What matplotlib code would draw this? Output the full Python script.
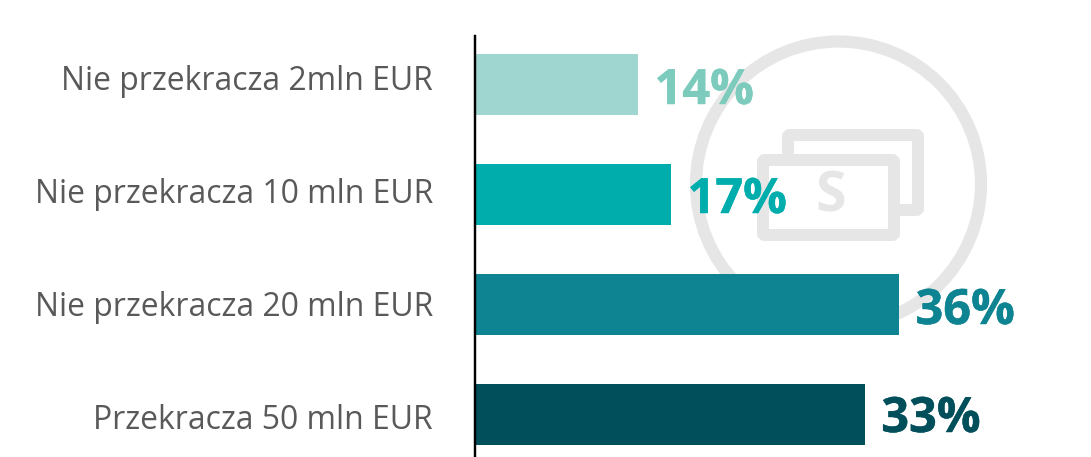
#!/usr/bin/env python3

import matplotlib
matplotlib.use("Agg")
import matplotlib.pyplot as plt
import matplotlib.patheffects as pe
from matplotlib.patches import Circle, FancyBboxPatch
from matplotlib.transforms import ScaledTranslation

W, H = 1091, 457

categories = ["Nie przekracza 2mln EUR", "Nie przekracza 10 mln EUR",
              "Nie przekracza 20 mln EUR", "Przekracza 50 mln EUR"]
values = [13.87, 16.67, 36, 33.1]  # bar lengths as drawn, slightly off the printed labels
value_labels = ["14%", "17%", "36%", "33%"]
colors = ["#a0d6d0", "#00adad", "#0e8391", "#014f5a"]
label_colors = ["#7ccbbd", "#00adad", "#0e8391", "#014f5a"]

plt.rcParams['font.family'] = ['Open Sans', 'DejaVu Sans']

fig = plt.figure(figsize=(W / 100, H / 100), dpi=100)

# background watermark, in pixel coordinates
bg = fig.add_axes([0, 0, 1, 1], zorder=0)
bg.set_xlim(0, W)
bg.set_ylim(H, 0)
bg.axis("off")
GREY = "#e6e6e6"
bg.add_patch(Circle((838.5, 184), 142.5, fill=False, ec=GREY, lw=8.8))
bg.add_patch(FancyBboxPatch((788, 135), 130, 75, boxstyle="round,pad=0,rounding_size=2",
                            fill=False, ec=GREY, lw=8.6))
bg.add_patch(FancyBboxPatch((763, 160), 131, 75, boxstyle="round,pad=0,rounding_size=2",
                            fc="white", ec=GREY, lw=8.6))
bg.text(831, 197, "S", color=GREY, fontsize=40, fontweight="bold", ha="center", va="center")

# axes: left edge is the black line, one row is 110 px, 36% reaches x=899
LEFT, TOP, ROW, PX = 474.5, 36, 110, 424.5 / 36
ax = fig.add_axes([LEFT / W, 0, (W - LEFT) / W, 1 - TOP / H], zorder=1)
ax.patch.set_alpha(0)
ax.set_xlim(0, (W - LEFT) / PX)
ax.set_ylim((H - 84.5) / ROW, (TOP - 84.5) / ROW)
ax.barh(range(len(values)), values, height=0.555, color=colors)

# the printed labels do not sit exactly on the bar centres
value_dy = [7, 6, 7, 5]
for i, v in enumerate(values):
    off = ScaledTranslation(0, -value_dy[i] / 100, fig.dpi_scale_trans)
    t = ax.text(v + 1.4, i, value_labels[i], color=label_colors[i], fontsize=35,
                fontweight="bold", va="center", ha="left", transform=ax.transData + off)
    t.set_path_effects([pe.withStroke(linewidth=0.35, foreground=label_colors[i])])

ax.set_yticks(range(len(categories)), categories)
ax.tick_params(axis="y", length=0, pad=30, labelsize=22.95, labelcolor="#595959")
tick_dy = [-7, -4, -1, 2]
for lab, dy in zip(ax.get_yticklabels(), tick_dy):
    lab.set_transform(lab.get_transform() + ScaledTranslation(0, -dy / 100, fig.dpi_scale_trans))
ax.xaxis.set_visible(False)
for side in ["top", "right", "bottom"]:
    ax.spines[side].set_visible(False)
ax.spines["left"].set_linewidth(1.75)
ax.spines["left"].set_color("black")

fig.savefig("out.png", dpi=100)
